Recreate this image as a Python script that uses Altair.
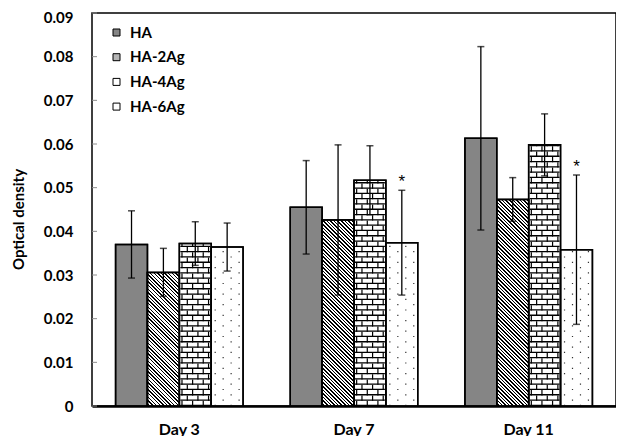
import altair as alt
import pandas as pd

# ---- data ----
days = ["Day 3", "Day 7", "Day 11"]
groups = ["HA", "HA-2Ag", "HA-4Ag", "HA-6Ag"]
mean_HA = [0.0370, 0.0455, 0.0613]
mean_HA2 = [0.0306, 0.0426, 0.0473]
mean_HA4 = [0.0372, 0.0517, 0.0598]
mean_HA6 = [0.0364, 0.0374, 0.0358]
sd_HA = [0.0077, 0.0107, 0.0210]
sd_HA2 = [0.0055, 0.0172, 0.0050]
sd_HA4 = [0.0050, 0.0079, 0.0071]
sd_HA6 = [0.0055, 0.0120, 0.0171]
star_day = ["Day 7", "Day 11"]
star_group = ["HA-6Ag", "HA-6Ag"]
y_ticks = [0, 0.01, 0.02, 0.03, 0.04, 0.05, 0.06, 0.07, 0.08, 0.09]

means = {"HA": mean_HA, "HA-2Ag": mean_HA2, "HA-4Ag": mean_HA4, "HA-6Ag": mean_HA6}
sds = {"HA": sd_HA, "HA-2Ag": sd_HA2, "HA-4Ag": sd_HA4, "HA-6Ag": sd_HA6}

rows = []
for g in groups:
    for i, d in enumerate(days):
        m, s = means[g][i], sds[g][i]
        star = any(sd_ == d and sg == g for sd_, sg in zip(star_day, star_group))
        rows.append(dict(day=d, group=g, mean=m, lo=m - s, hi=m + s, zero=0.0, star=star))
df = pd.DataFrame(rows)
tick_df = pd.DataFrame({"v": y_ticks})

# ---- layout / style ----
W, H, YMAX = 524, 393, 0.09
PAD_IN = 0.27
BAR_W = W / len(days) * (1 - PAD_IN) / len(groups)
FONT = "Lato"
TITLE = "Optical density"
fills = ["#858585", "#b5b5b5", "#ffffff", "#ffffff"]

x_enc = alt.X("day:N", sort=days,
              scale=alt.Scale(domain=days, paddingInner=PAD_IN, paddingOuter=PAD_IN / 2),
              axis=alt.Axis(title=None, ticks=False, labelAngle=0, labelFont=FONT,
                            labelFontWeight="bold", labelFontSize=16, labelColor="black",
                            labelPadding=15, domainColor="black", domainWidth=2.5))
y_scale = alt.Scale(domain=[0, YMAX], nice=False)


def xo():
    return alt.XOffset("group:N", sort=groups, scale=alt.Scale(domain=groups))


def xo_slots(n):
    # each bar's band split into n equal sub-slots (texture columns)
    dom = [f"{g}|{k}" for g in groups for k in range(n)]
    return alt.XOffset("slot:N", sort=dom, scale=alt.Scale(domain=dom))


def yq(field):
    return alt.Y(field, title=TITLE, scale=y_scale)


base = alt.Chart(df)

bars = base.mark_bar(stroke="black", strokeWidth=1.5).encode(
    x=x_enc, xOffset=xo(),
    y=alt.Y("mean:Q", title=TITLE, scale=y_scale,
            axis=alt.Axis(values=y_ticks, ticks=False, domain=False, grid=False,
                          labelExpr="datum.value == 0 ? '0' : format(datum.value, '.2f')",
                          labelOffset={"condition": {"test": "datum.value >= 0.089", "value": 4},
                                       "value": 0},
                          labelFont=FONT, labelFontWeight="bold", labelFontSize=15,
                          labelColor="black", labelPadding=19,
                          titleFont=FONT, titleFontWeight="bold", titleFontSize=15,
                          titleColor="black", titleAngle=-90, titleX=-74, titleY=206,
                          titleAlign="center", titleBaseline="middle")),
    fill=alt.Fill("group:N", sort=groups, scale=alt.Scale(domain=groups, range=fills),
                  legend=alt.Legend(title=None, orient="none", legendX=17, legendY=12,
                                    symbolType="square", symbolSize=49,
                                    symbolStrokeColor="black", symbolStrokeWidth=1,
                                    labelFont=FONT, labelFontWeight="bold", labelFontSize=15,
                                    labelColor="black", labelOffset=6, rowPadding=8.7,
                                    padding=0)),
)


def hatch_gradient(value):
    h = value / YMAX * H
    w = BAR_W
    L = w + h
    s = L / (w * w + h * h)
    P, lw = 3.6, 1.5
    stops = [alt.GradientStop(color="white", offset=0)]
    pos = P * 0.5
    while pos + lw < L:
        a, b = pos / L, (pos + lw) / L
        stops += [alt.GradientStop(color="white", offset=a),
                  alt.GradientStop(color="black", offset=a),
                  alt.GradientStop(color="black", offset=b),
                  alt.GradientStop(color="white", offset=b)]
        pos += P
    stops.append(alt.GradientStop(color="white", offset=1))
    return alt.Gradient(gradient="linear", stops=stops, x1=0, y1=1, x2=s * w, y2=1 - s * h)


hatch_layers = []
for i, d in enumerate(days):
    hatch_layers.append(
        base.transform_filter((alt.datum.group == "HA-2Ag") & (alt.datum.day == d))
        .mark_bar(fill=hatch_gradient(mean_HA2[i]), stroke="black", strokeWidth=1.5)
        .encode(x=x_enc, xOffset=xo(), y=yq("mean:Q"))
    )

brick = base.transform_filter(alt.datum.group == "HA-4Ag")
brick_rows = brick.mark_rule(strokeWidth=BAR_W - 2, strokeDash=[1.3, 4.0], strokeCap="butt",
                             color="black").encode(x=x_enc, xOffset=xo(), y=yq("zero:Q"), y2="mean:Q")
brick_joints = []
for k in range(6):
    dash_off = 0 if k % 2 == 0 else 5.3
    brick_joints.append(
        brick.transform_calculate(slot=f"datum.group + '|{k}'")
        .mark_rule(strokeWidth=1.2, strokeDash=[5.3, 5.3], strokeDashOffset=dash_off,
                   strokeCap="butt", color="black")
        .encode(x=x_enc, xOffset=xo_slots(6), y=yq("zero:Q"), y2="mean:Q")
    )

dots = base.transform_filter(alt.datum.group == "HA-6Ag")
dot_layers = []
for k in range(4):
    dash_off = 0 if k % 2 == 0 else 5.3
    dot_layers.append(
        dots.transform_calculate(slot=f"datum.group + '|{k}'")
        .mark_rule(strokeWidth=1.2, strokeDash=[1.2, 9.4], strokeDashOffset=dash_off,
                   strokeCap="butt", color="#333333")
        .encode(x=x_enc, xOffset=xo_slots(4), y=yq("zero:Q"), y2="mean:Q")
    )

outline = base.mark_bar(fillOpacity=0, stroke="black", strokeWidth=1.5).encode(
    x=x_enc, xOffset=xo(), y=yq("mean:Q"))

err = base.mark_rule(color="black", strokeWidth=1.3).encode(
    x=x_enc, xOffset=xo(), y=yq("lo:Q"), y2="hi:Q")
cap_hi = base.mark_tick(color="black", size=7, thickness=1.5).encode(
    x=x_enc, xOffset=xo(), y=yq("hi:Q"))
cap_lo = base.mark_tick(color="black", size=7, thickness=1.5).encode(
    x=x_enc, xOffset=xo(), y=yq("lo:Q"))

stars = base.transform_filter(alt.datum.star).mark_text(
    text="*", font="Liberation Sans", fontSize=17, fill="black", baseline="alphabetic",
    dy=-3).encode(x=x_enc, xOffset=xo(), y=yq("hi:Q"))

inner_ticks = alt.Chart(tick_df).mark_rule(color="#8c8c8c", strokeWidth=1).encode(
    y=alt.Y("v:Q", title=TITLE, scale=y_scale), x=alt.value(0), x2=alt.value(5))

chart = alt.layer(
    bars, *hatch_layers, brick_rows, *brick_joints, *dot_layers, outline,
    err, cap_hi, cap_lo, stars, inner_ticks
).resolve_scale(
    xOffset="independent"
).properties(
    width=W, height=H,
    autosize=alt.AutoSizeParams(type="none"),
    padding={"left": 84, "top": 5, "right": 0, "bottom": 30},
    background="white",
).configure_view(stroke="black", strokeWidth=1.5)

chart.save("out.html", embed_options={"renderer": "svg", "actions": False})
